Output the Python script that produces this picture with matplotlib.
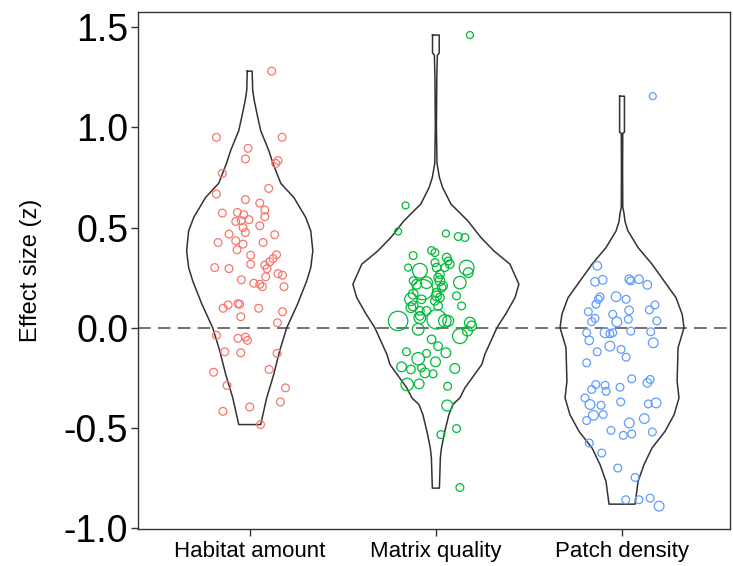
import numpy as np
import matplotlib
matplotlib.use("Agg")
import matplotlib.pyplot as plt

plt.rcParams['font.family'] = ['Liberation Sans', 'DejaVu Sans']

groups = ['Habitat amount', 'Matrix quality', 'Patch density']
colors = ['#F8766D', '#00BA38', '#619CFF']

# effect sizes (z) with horizontal jitter
red_y = [1.28, 0.95, 0.95, 0.895, 0.842, 0.834, 0.82, 0.77, 0.667, 0.695,
         0.639, 0.622, 0.572, 0.587, 0.575, 0.564, 0.554, 0.53, 0.534, 0.539,
         0.509, 0.50, 0.475, 0.467, 0.464, 0.425, 0.434, 0.417, 0.389, 0.425,
         0.362, 0.364, 0.345, 0.329, 0.30, 0.295, 0.317, 0.312, 0.295, 0.27,
         0.262, 0.254, 0.239, 0.222, 0.217, 0.205, 0.205, 0.097, 0.114, 0.12,
         0.117, 0.097, 0.055, 0.08, 0.025, -0.038, -0.053, -0.047, -0.063, -0.12,
         -0.125, -0.128, -0.222, -0.208, -0.288, -0.30, -0.37, -0.395, -0.417, -0.483]
red_jit = [0.118, -0.179, 0.174, -0.009, -0.023, 0.152, 0.140, -0.147, -0.179, 0.102,
           -0.023, 0.054, -0.147, 0.081, -0.066, -0.032, 0.081, -0.075, -0.045, -0.004,
           0.054, -0.036, -0.023, -0.111, 0.134, -0.170, -0.075, -0.036, -0.068, 0.072,
           0.005, 0.144, 0.125, 0.108, -0.188, -0.111, 0.005, 0.081, 0.093, 0.152,
           0.176, 0.086, -0.045, 0.022, 0.054, 0.068, 0.184, -0.143, -0.116, -0.063,
           -0.054, 0.048, -0.048, 0.176, 0.149, -0.179, -0.063, -0.022, -0.012, -0.134,
           -0.048, 0.147, -0.194, 0.104, -0.122, 0.192, 0.165, 0.0, -0.144, 0.058]

green_y = [1.46, 0.61, 0.48, 0.47, 0.455, 0.45, 0.385, 0.375, 0.36, 0.35,
           0.333, 0.317, 0.325, 0.30, 0.284, 0.30, 0.30, 0.30, 0.275, 0.25,
           0.267, 0.234, 0.225, 0.217, 0.234, 0.209, 0.225, 0.20, 0.19, 0.175,
           0.15, 0.167, 0.159, 0.142, 0.142, 0.159, 0.134, 0.109, 0.109, 0.109,
           0.10, 0.084, 0.084, 0.059, 0.034, 0.042, 0.05, 0.034, 0.034, 0.025,
           0.009, -0.008, -0.042, -0.017, -0.058, -0.092, -0.125, -0.12, -0.128, -0.155,
           -0.17, -0.195, -0.208, -0.20, -0.225, -0.23, -0.203, -0.283, -0.28, -0.292,
           -0.388, -0.503, -0.533, -0.797]
green_jit = [0.183, -0.163, -0.203, 0.054, 0.12, 0.156, -0.023, -0.005, -0.122, 0.058,
             0.066, 0.075, -0.005, -0.149, -0.086, 0.048, 0.004, 0.165, 0.174, 0.012,
             0.022, -0.122, -0.05, -0.104, 0.022, 0.039, 0.129, 0.031, -0.07, 0.004,
             0.022, -0.122, 0.111, -0.134, -0.077, 0.004, -0.005, 0.012, 0.138, -0.122,
             -0.134, -0.086, -0.05, -0.086, -0.203, 0.004, -0.086, 0.048, 0.066, 0.183,
             0.192, -0.095, 0.129, 0.17, -0.023, 0.012, 0.054, -0.158, -0.05, -0.095,
             -0.002, -0.184, -0.134, -0.077, -0.059, -0.015, 0.102, -0.154, -0.09, 0.063,
             0.061, 0.111, 0.027, 0.129]
# relative study weight (point size)
green_w = [0.9, 0.9, 0.9, 0.9, 1.0, 1.0, 1.0, 1.0, 1.0, 1.1,
           1.0, 1.1, 1.0, 0.9, 1.9, 1.0, 1.1, 1.9, 1.25, 1.1,
           1.1, 1.0, 1.5, 1.25, 1.25, 1.1, 1.6, 1.1, 2.6, 1.1,
           1.1, 1.25, 1.0, 1.6, 1.1, 1.25, 1.1, 1.1, 1.0, 1.25,
           1.25, 1.1, 1.1, 1.1, 2.5, 2.5, 1.5, 1.6, 1.4, 1.4,
           1.25, 1.5, 1.9, 1.25, 1.1, 1.1, 1.25, 1.0, 1.0, 1.6,
           1.25, 1.25, 1.1, 1.0, 1.25, 1.0, 1.25, 1.6, 1.25, 1.0,
           1.4, 1.0, 1.0, 1.0]

blue_y = [1.155, 0.309, 0.229, 0.239, 0.242, 0.234, 0.242, 0.214, 0.154, 0.142,
          0.117, 0.155, 0.142, 0.114, 0.089, 0.08, 0.087, 0.067, 0.047, 0.03,
          0.042, 0.029, 0.034, -0.025, -0.025, -0.03, -0.025, -0.017, -0.02, -0.063,
          -0.075, -0.092, -0.12, -0.108, -0.147, -0.175, -0.255, -0.258, -0.275, -0.283,
          -0.287, -0.308, -0.317, -0.297, -0.35, -0.383, -0.387, -0.37, -0.38, -0.375,
          -0.437, -0.433, -0.463, -0.475, -0.453, -0.512, -0.537, -0.53, -0.52, -0.575,
          -0.625, -0.70, -0.747, -0.858, -0.858, -0.85, -0.89]
blue_jit = [0.165, -0.133, -0.145, -0.104, 0.039, 0.047, 0.091, 0.136, -0.118, -0.127,
            -0.14, -0.032, 0.022, 0.177, 0.147, -0.181, 0.038, -0.05, -0.145, -0.163,
            0.034, -0.028, 0.187, -0.19, -0.091, -0.065, -0.05, 0.047, 0.154, -0.176,
            0.168, -0.065, -0.133, -0.005, 0.022, -0.19, 0.052, 0.151, 0.136, -0.141,
            -0.091, -0.163, -0.086, -0.011, -0.199, -0.172, -0.113, -0.007, 0.141, 0.183,
            -0.154, -0.101, -0.19, 0.039, 0.12, -0.059, 0.007, 0.052, 0.163, -0.176,
            -0.109, -0.023, 0.07, 0.02, 0.091, 0.151, 0.199]
blue_w = [0.9, 1.1, 1.1, 1.1, 1.1, 1.0, 1.1, 1.1, 1.0, 1.0,
          1.0, 1.25, 1.0, 1.0, 1.0, 1.0, 1.1, 1.0, 1.0, 1.0,
          1.0, 1.25, 1.0, 1.0, 1.25, 1.0, 1.0, 1.0, 1.0, 1.1,
          1.25, 1.25, 1.0, 1.0, 1.0, 1.0, 1.0, 1.0, 1.1, 1.0,
          1.0, 1.0, 1.0, 1.0, 1.0, 1.25, 1.0, 1.0, 1.0, 1.25,
          1.25, 1.0, 1.0, 1.25, 1.25, 1.0, 1.0, 1.0, 1.0, 1.0,
          1.0, 1.0, 1.0, 1.0, 1.0, 1.0, 1.25]

# violin outlines: effect size level and half width (in x units)
red_vy = [1.28, 1.185, 1.135, 1.05, 0.983, 0.885, 0.817, 0.72, 0.65, 0.55,
          0.483, 0.383, 0.30, 0.233, 0.12, 0.0, -0.115, -0.233, -0.35, -0.483]
red_vw = [0.013, 0.016, 0.024, 0.043, 0.059, 0.102, 0.126, 0.167, 0.237, 0.301,
          0.328, 0.339, 0.328, 0.306, 0.258, 0.199, 0.161, 0.129, 0.091, 0.059]
green_vy = [1.46, 1.37, 1.36, 1.25, 1.0, 0.82, 0.75, 0.70, 0.617, 0.533,
            0.45, 0.383, 0.317, 0.217, 0.15, 0.07, 0.0, -0.133, -0.183, -0.30,
            -0.35, -0.383, -0.433, -0.517, -0.60, -0.65, -0.80]
green_vw = [0.018, 0.018, 0.008, 0.005, 0.003, 0.006, 0.019, 0.036, 0.081, 0.172,
            0.242, 0.312, 0.398, 0.446, 0.425, 0.376, 0.328, 0.263, 0.247, 0.156,
            0.129, 0.091, 0.070, 0.048, 0.030, 0.024, 0.019]
blue_vy = [1.155, 0.975, 0.97, 0.80, 0.60, 0.575, 0.53, 0.483, 0.40, 0.317,
           0.233, 0.15, 0.067, 0.0, -0.1, -0.267, -0.35, -0.433, -0.517, -0.60,
           -0.683, -0.767, -0.88]
blue_vw = [0.013, 0.013, 0.004, 0.003, 0.004, 0.010, 0.016, 0.032, 0.086, 0.161,
           0.226, 0.290, 0.323, 0.333, 0.301, 0.296, 0.306, 0.280, 0.231, 0.161,
           0.118, 0.086, 0.070]

fig = plt.figure(figsize=(7.33, 5.66), dpi=100)
ax = fig.add_axes([0.1883, 0.0650, 0.8076, 0.9138])

violins = [(red_vy, red_vw), (green_vy, green_vw), (blue_vy, blue_vw)]
for i, (vy, vw) in enumerate(violins):
    pos = i + 1
    vy = np.array(vy)
    vw = np.array(vw)
    xs = np.concatenate([pos - vw, (pos + vw)[::-1], [pos - vw[0]]])
    ys = np.concatenate([vy, vy[::-1], [vy[0]]])
    ax.plot(xs, ys, color='#333333', lw=1.1, zorder=2)

ax.axhline(0, color='#666666', lw=1.3, ls=(0, (7, 4)), zorder=1)

points = [(red_y, red_jit, [1.0] * len(red_y)),
          (green_y, green_jit, green_w),
          (blue_y, blue_jit, blue_w)]
for i, (y, jit, w) in enumerate(points):
    x = i + 1 + np.array(jit)
    s = (np.array(w) * 5.6) ** 2
    ax.scatter(x, y, s=s, facecolors='none', edgecolors=colors[i],
               linewidths=0.9, zorder=3)

ax.set_xlim(0.4, 3.58)
ax.set_ylim(-1.005, 1.575)
ax.set_xticks([1, 2, 3])
ax.set_xticklabels(groups, fontsize=16)
ax.set_yticks([-1.0, -0.5, 0.0, 0.5, 1.0, 1.5])
ax.set_yticklabels(['-1.0', '-0.5', '0.0', '0.5', '1.0', '1.5'], fontsize=27)
ax.tick_params(axis='both', direction='out', length=5, width=1, color='#333333')
ax.tick_params(axis='y', pad=2)
ax.set_ylabel('Effect size (z)', fontsize=17)
ax.yaxis.set_label_coords(-0.163, 0.5)
for sp in ax.spines.values():
    sp.set_color('#333333')
    sp.set_linewidth(1.0)

fig.savefig('out.png', dpi=100)
